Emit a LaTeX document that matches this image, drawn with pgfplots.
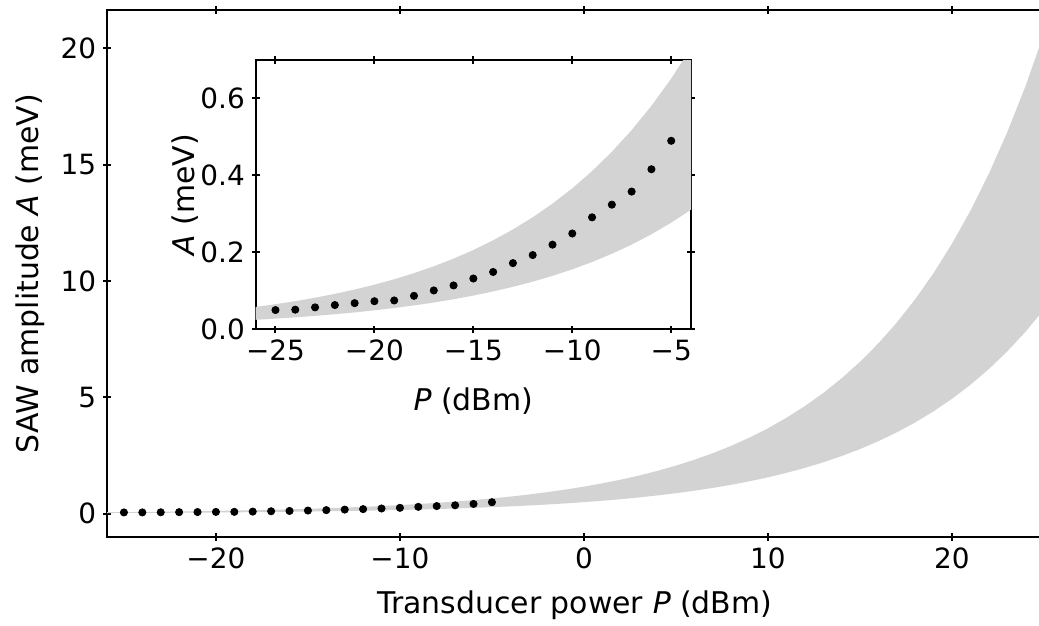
\documentclass[border=0pt]{standalone}
\usepackage{fontspec}
\setmainfont{DejaVu Sans}[ItalicFont={DejaVu Sans Oblique}]
\usepackage{pgfplots}
\pgfplotsset{compat=1.18}
\usepackage{pgfplotstable}
\usepgfplotslibrary{fillbetween}

\pgfplotstableread{
P up lo
-26 0.0581 0.0247
-25 0.0652 0.0277
-24 0.0731 0.0311
-23 0.0821 0.0349
-22 0.0921 0.0392
-21 0.1033 0.0439
-20 0.1159 0.0493
-19 0.1300 0.0553
-18 0.1459 0.0621
-17 0.1637 0.0696
-16 0.1837 0.0781
-15 0.2061 0.0877
-14 0.2313 0.0984
-13 0.2595 0.1104
-12 0.2911 0.1238
-11 0.3266 0.1389
-10 0.3665 0.1559
-9 0.4112 0.1749
-8 0.4614 0.1963
-7 0.5177 0.2202
-6 0.5809 0.2471
-5 0.6518 0.2772
-4 0.7313 0.3111
-3 0.8205 0.3490
-2 0.9206 0.3916
-1 1.0330 0.4394
0 1.1590 0.4930
1 1.3004 0.5532
2 1.4591 0.6206
3 1.6371 0.6964
4 1.8369 0.7814
5 2.0610 0.8767
6 2.3125 0.9837
7 2.5947 1.1037
8 2.9113 1.2384
9 3.2665 1.3895
10 3.6651 1.5590
11 4.1123 1.7492
12 4.6141 1.9627
13 5.1771 2.2022
14 5.8087 2.4709
15 6.5175 2.7723
16 7.3128 3.1106
17 8.2051 3.4902
18 9.2063 3.9160
19 10.3296 4.3939
20 11.5900 4.9300
21 13.0042 5.5316
22 14.5910 6.2065
23 16.3713 6.9638
24 18.3689 7.8135
25 20.6103 8.7669
}\band

\pgfplotstableread{
P A
-25 0.050
-24 0.051
-23 0.057
-22 0.063
-21 0.068
-20 0.073
-19 0.075
-18 0.087
-17 0.101
-16 0.114
-15 0.132
-14 0.149
-13 0.172
-12 0.193
-11 0.220
-10 0.249
-9 0.291
-8 0.324
-7 0.358
-6 0.416
-5 0.490
}\pts

\definecolor{bandgray}{HTML}{D3D3D3}

\begin{document}
\begin{tikzpicture}
\pgfplotsset{
  myax/.style={
    scale only axis,
    axis line style={line width=1bp},
    tick style={line width=1bp, black},
    tick align=center,
    major tick length=3.8bp,
    tick label style={font=\fontsize{14}{16}\selectfont},
    label style={font=\fontsize{15}{18}\selectfont},
    xtick pos=both, ytick pos=both,
    clip=true,
  },
}
\begin{axis}[myax, name=main, at={(0,0)}, anchor=south west,
  width=467.8bp, height=263.5bp,
  xmin=-25.92, xmax=24.93, ymin=-1.005, ymax=21.64,
  xtick={-20,-10,0,10,20}, xticklabels={−20,−10,0,10,20},
  ytick={0,5,10,15,20}, yticklabels={0,5,10,15,20},
  xlabel={Transducer power \textit{P} (dBm)},
  ylabel={SAW amplitude \textit{A} (meV)},
  xlabel style={at={(axis description cs:0.5,-0.129)}, anchor=center},
  ylabel style={at={(axis description cs:-0.0823,0.5)}, anchor=center},
]
\addplot[name path=u, draw=none, forget plot] table[x=P, y=up] {\band};
\addplot[name path=l, draw=none, forget plot] table[x=P, y=lo] {\band};
\addplot[bandgray, draw=none] fill between[of=u and l];
\addplot[only marks, mark=*, mark size=1.8bp, black] table[x=P, y=A] {\pts};
\end{axis}

\begin{axis}[myax, name=inset, at={(74.35bp,103.85bp)}, anchor=south west,
  width=217.65bp, height=134.65bp,
  xmin=-26, xmax=-4, ymin=0, ymax=0.7,
  xtick={-25,-20,-15,-10,-5}, xticklabels={−25,−20,−15,−10,−5},
  ytick={0,0.2,0.4,0.6}, yticklabels={0.0,0.2,0.4,0.6},
  xlabel={\textit{P} (dBm)},
  ylabel={\textit{A} (meV)},
  xlabel style={at={(axis description cs:0.5,-0.267)}, anchor=center},
  ylabel style={at={(axis description cs:-0.163,0.5)}, anchor=center},
  axis background/.style={fill=white},
]
\addplot[name path=u2, draw=none, forget plot] table[x=P, y=up] {\band};
\addplot[name path=l2, draw=none, forget plot] table[x=P, y=lo] {\band};
\addplot[bandgray, draw=none] fill between[of=u2 and l2];
\addplot[only marks, mark=*, mark size=1.8bp, black] table[x=P, y=A] {\pts};
\end{axis}
\pgfresetboundingbox
\path[use as bounding box] (-53.5bp,-44.5bp) rectangle (466bp,268.5bp);
\end{tikzpicture}
\end{document}
